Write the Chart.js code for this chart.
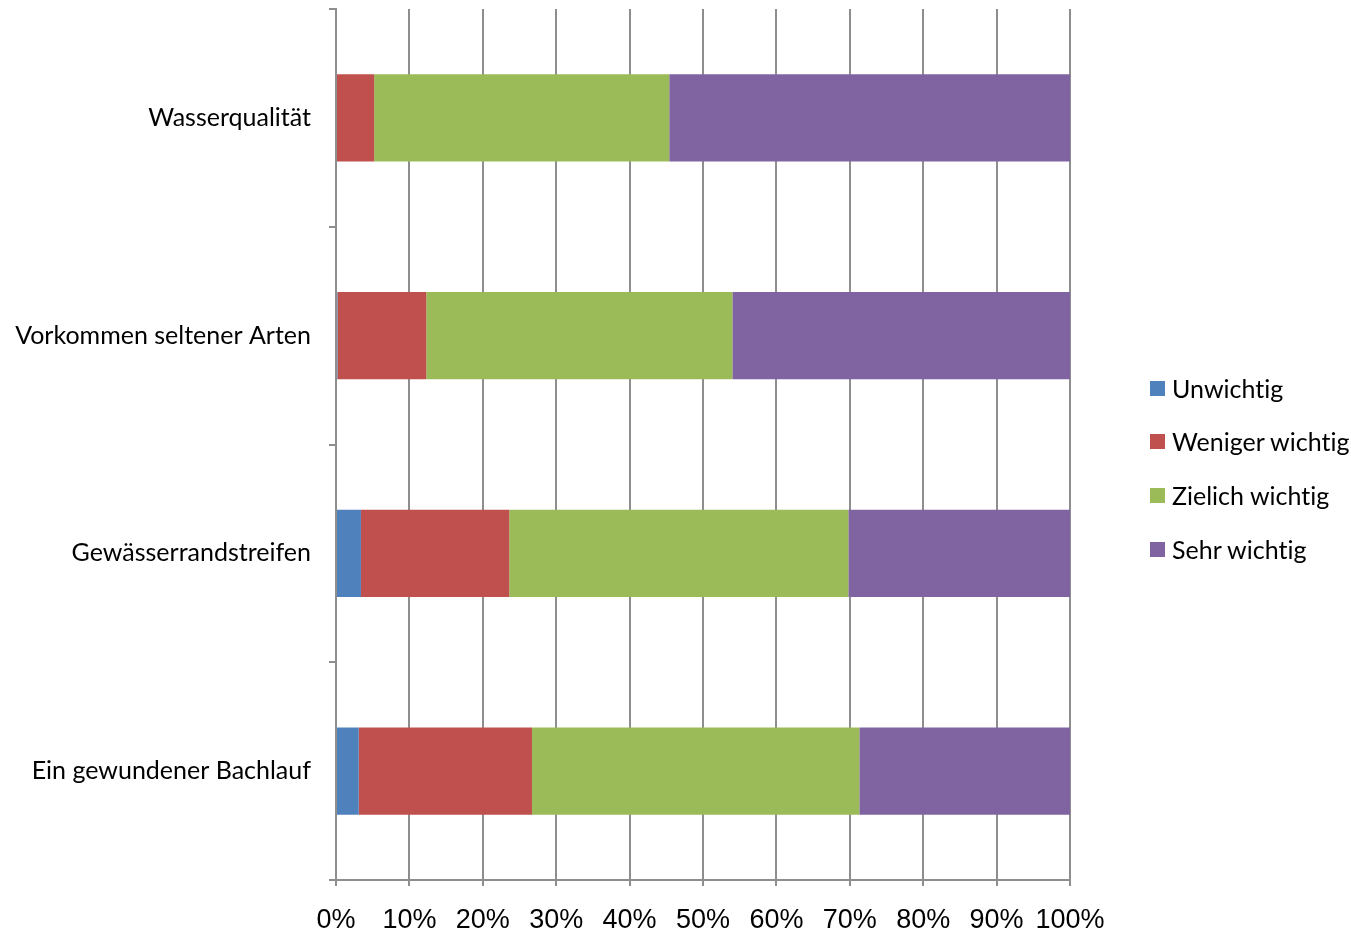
<!DOCTYPE html>
<html>
<head>
<meta charset="utf-8">
<script src="https://cdn.jsdelivr.net/npm/chart.js@4"></script>
<style>
  html, body { margin: 0; padding: 0; background: #fff; }
  #wrap { position: relative; width: 1351px; height: 933px; }
  #legend { position: absolute; left: 1150px; top: 0; font-family: Lato, "Open Sans", sans-serif; font-size: 25px; color: #000; font-variant-ligatures: none; font-feature-settings: "liga" 0; }
  .item { position: absolute; left: 0; white-space: nowrap; display: flex; align-items: center; height: 30px; }
  .box { width: 15px; height: 15px; margin-right: 7px; }
</style>
</head>
<body>
<div id="wrap">
  <canvas id="c" width="1351" height="933"></canvas>
  <div id="legend"></div>
</div>
<script>
const categories = ["Wasserqualität", "Vorkommen seltener Arten", "Gewässerrandstreifen", "Ein gewundener Bachlauf"];
const seriesNames = ["Unwichtig", "Weniger wichtig", "Zielich wichtig", "Sehr wichtig"];
const unwichtig = [0, 0.2, 3.4, 3.1];
const wenigerWichtig = [5.2, 12.1, 20.2, 23.6];
const zielichWichtig = [40.2, 41.7, 46.2, 44.6];
const sehrWichtig = [54.6, 46.0, 30.2, 28.7];
const xTicks = [0, 10, 20, 30, 40, 50, 60, 70, 80, 90, 100];
const colors = ["#4f81bd", "#c0504d", "#9bbb59", "#8064a2"];

const seriesData = [unwichtig, wenigerWichtig, zielichWichtig, sehrWichtig];
const gridColor = "#8e8e8e";

new Chart(document.getElementById("c"), {
  type: "bar",
  data: {
    labels: categories,
    datasets: seriesNames.map((n, i) => ({
      label: n,
      data: seriesData[i],
      backgroundColor: colors[i],
      borderWidth: 0,
      barPercentage: 0.4,
      categoryPercentage: 1.0
    }))
  },
  options: {
    indexAxis: "y",
    responsive: false,
    animation: false,
    layout: { padding: { top: 9, right: 281, left: 0, bottom: 0 } },
    plugins: { legend: { display: false }, tooltip: { enabled: false } },
    scales: {
      x: {
        stacked: true,
        min: 0, max: 100,
        afterBuildTicks: s => { s.ticks = xTicks.map(v => ({ value: v })); },
        afterFit: s => { s.height = 53; s.paddingLeft = 0; s.paddingRight = 0; },
        ticks: { callback: v => v + "%", color: "#000", font: { family: "'Liberation Sans', Arial, sans-serif", size: 27 }, padding: 18, maxRotation: 0, minRotation: 0, autoSkip: false },
        grid: { color: gridColor, lineWidth: 2, tickLength: 6 },
        border: { color: gridColor, width: 2 }
      },
      y: {
        stacked: true,
        afterFit: s => { s.width = 336; s.paddingTop = 0; s.paddingBottom = 0; },
        ticks: { color: "#000", font: { family: "Lato, 'Open Sans', sans-serif", size: 25 }, padding: 18 },
        grid: { offset: true, drawOnChartArea: false, color: gridColor, lineWidth: 2, tickLength: 7 },
        border: { color: gridColor, width: 2 }
      }
    }
  }
});

const legend = document.getElementById("legend");
const legendY = [388, 441, 495, 549];
seriesNames.forEach((n, i) => {
  const d = document.createElement("div");
  d.className = "item";
  d.style.top = (legendY[i] - 15) + "px";
  d.innerHTML = '<span class="box" style="background:' + colors[i] + '"></span><span>' + n + '</span>';
  legend.appendChild(d);
});
</script>
</body>
</html>
